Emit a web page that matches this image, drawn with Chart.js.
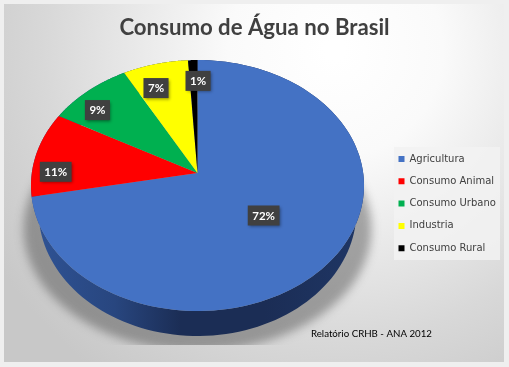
<!DOCTYPE html>
<html>
<head>
<meta charset="utf-8">
<style>
  html, body { margin: 0; padding: 0; background: #efefef; }
  canvas { display: block; }
</style>
<script src="https://cdn.jsdelivr.net/npm/chart.js@4/dist/chart.umd.min.js"></script>
</head>
<body>
<canvas id="chart" width="509" height="367"></canvas>
<script>
const categories = ["Agricultura", "Consumo Animal", "Consumo Urbano", "Industria", "Consumo Rural"];
const shares = [72, 11, 9, 7, 1];
const sliceColors = ["#4472c4", "#ff0000", "#00b050", "#ffff00", "#000000"];
const chartTitle = "Consumo de Água no Brasil";
const sourceNote = "Relatório CRHB - ANA 2012";

// tilted pie: top face goes through a perspective map, wall is a shifted copy
const pie = { cx: 197.5, apexY: 173, a: 107, c: -0.0996, k: 165.7, rx: 166.5, ry: 125.5, midY: 185.5 };
const wall = { shift: 25, shrink: 0.955 };
const labelFill = [0.5, 0.85, 0.85, 0.85, 0.85];
const labelNudge = [[2, -10], [-2, 3], [0, 0], [-2, 5], [5, 2]];

function topPoint(angle, r) {
  const x = r * Math.cos(angle), y = r * Math.sin(angle);
  const w = 1 + pie.c * y;
  return [pie.cx + pie.k * x / w, (pie.a * y + pie.apexY) / w];
}

function wallPoint(angle) {
  const p = topPoint(angle, 1);
  return [pie.cx + (p[0] - pie.cx) * wall.shrink, p[1] + wall.shift];
}

function sliceWall(ctx, arc) {
  const steps = 120;
  ctx.beginPath();
  for (let i = 0; i <= steps; i++) {
    const p = topPoint(arc.startAngle + (arc.endAngle - arc.startAngle) * i / steps, 1);
    i ? ctx.lineTo(p[0], p[1]) : ctx.moveTo(p[0], p[1]);
  }
  for (let i = steps; i >= 0; i--) {
    const p = wallPoint(arc.startAngle + (arc.endAngle - arc.startAngle) * i / steps);
    ctx.lineTo(p[0], p[1]);
  }
  ctx.closePath();
}

function sliceTop(ctx, arc) {
  const steps = 120;
  const apex = topPoint(0, 0);
  ctx.beginPath();
  ctx.moveTo(apex[0], apex[1]);
  for (let i = 0; i <= steps; i++) {
    const p = topPoint(arc.startAngle + (arc.endAngle - arc.startAngle) * i / steps, 1);
    ctx.lineTo(p[0], p[1]);
  }
  ctx.closePath();
}

const panelPlugin = {
  id: "panel",
  beforeDraw(chart) {
    const ctx = chart.ctx;
    ctx.save();
    ctx.fillStyle = "#efefef";
    ctx.fillRect(0, 0, 509, 367);
    const bg = ctx.createRadialGradient(335, 50, 10, 335, 50, 400);
    bg.addColorStop(0, "#ffffff");
    bg.addColorStop(0.25, "#fafafa");
    bg.addColorStop(0.72, "#d8d8d8");
    bg.addColorStop(1, "#c8c8c8");
    ctx.fillStyle = bg;
    ctx.fillRect(4, 4, 500, 358);

    ctx.fillStyle = "rgba(242,242,242,0.85)";
    ctx.fillRect(394, 147, 106, 113);

    ctx.fillStyle = "#000000";
    ctx.font = "9.7px Lato";
    ctx.textAlign = "left";
    ctx.textBaseline = "middle";
    ctx.fillText(sourceNote, 311, 333.5);
    ctx.restore();

    const legend = chart.legend;
    const pad = legend.options.labels.padding;
    legend.left = 398.5 - pad;
    legend.top = 154 - pad;
    legend.right = 509;
    legend.bottom = 420;
  },
  beforeDatasetDraw(chart) {
    const ctx = chart.ctx;
    const arcs = chart.getDatasetMeta(0).data;

    ctx.save();
    ctx.beginPath();
    ctx.rect(4, 4, 500, 341);
    ctx.clip();
    ctx.filter = "blur(5px)";
    ctx.fillStyle = "rgba(60,60,60,0.42)";
    ctx.beginPath();
    ctx.ellipse(197.5, 229, 174, 122, 0, 0, Math.PI * 2);
    ctx.fill();
    ctx.restore();

    ctx.save();
    const side = ctx.createLinearGradient(31, 0, 364, 0);
    side.addColorStop(0, "#2f5395");
    side.addColorStop(0.25, "#28467f");
    side.addColorStop(0.45, "#1b2d55");
    side.addColorStop(0.7, "#1b2d55");
    side.addColorStop(1, "#1f3665");
    arcs.forEach((arc) => {
      sliceWall(ctx, arc);
      ctx.fillStyle = side;
      ctx.fill();
    });
    arcs.forEach((arc, i) => {
      sliceTop(ctx, arc);
      ctx.fillStyle = sliceColors[i];
      ctx.fill();
    });
    ctx.restore();
    return false;
  },
  afterDatasetsDraw(chart) {
    const ctx = chart.ctx;
    const arcs = chart.getDatasetMeta(0).data;
    ctx.save();
    ctx.font = "bold 11.5px Lato";
    ctx.textAlign = "center";
    ctx.textBaseline = "middle";
    arcs.forEach((arc, i) => {
      const mid = (arc.startAngle + arc.endAngle) / 2;
      const x = pie.cx + labelFill[i] * pie.rx * Math.cos(mid) + labelNudge[i][0];
      const y = pie.midY + labelFill[i] * pie.ry * Math.sin(mid) + labelNudge[i][1];
      const text = shares[i] + "%";
      const w = ctx.measureText(text).width + 9;
      ctx.shadowColor = "rgba(0,0,0,0.4)";
      ctx.shadowBlur = 3;
      ctx.shadowOffsetX = 1.5;
      ctx.shadowOffsetY = 1.5;
      ctx.fillStyle = "#404040";
      ctx.fillRect(x - w / 2, y - 10, w, 20);
      ctx.shadowColor = "transparent";
      ctx.fillStyle = "#ffffff";
      ctx.fillText(text, x, y + 0.5);
    });
    ctx.restore();
  }
};

new Chart(document.getElementById("chart"), {
  type: "pie",
  data: {
    labels: categories,
    datasets: [{ data: shares, backgroundColor: sliceColors, borderWidth: 0 }]
  },
  options: {
    responsive: false,
    animation: false,
    layout: { padding: { top: 12 } },
    plugins: {
      title: {
        display: true,
        text: chartTitle,
        color: "#404040",
        font: { family: "Lato", size: 22.2, weight: "bold" },
        padding: { top: 3, bottom: 0 }
      },
      legend: {
        position: "right",
        align: "start",
        labels: {
          boxWidth: 6,
          boxHeight: 6,
          padding: 12.3,
          color: "#404040",
          font: { family: "'DejaVu Sans'", size: 10 }
        }
      },
      tooltip: { enabled: false }
    }
  },
  plugins: [panelPlugin]
});
</script>
</body>
</html>
